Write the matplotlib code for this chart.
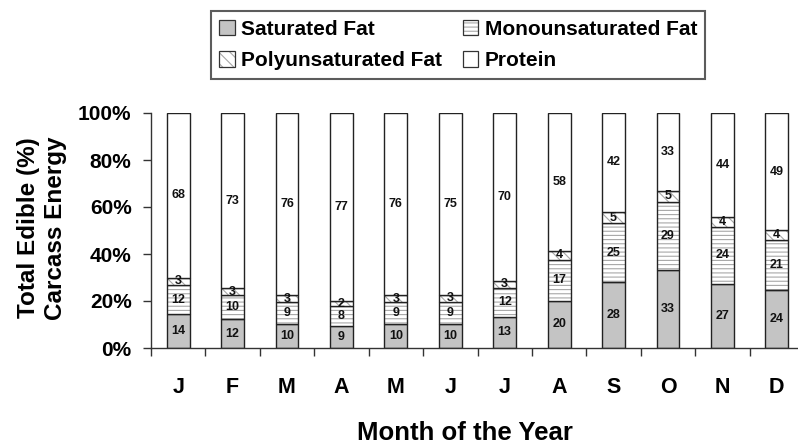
import numpy as np
import matplotlib
matplotlib.use("Agg")
import matplotlib.pyplot as plt
from matplotlib.patches import Patch
from matplotlib.ticker import FixedLocator

plt.rcParams['font.family'] = ['Liberation Sans', 'DejaVu Sans']
plt.rcParams['font.weight'] = 'bold'
plt.rcParams['hatch.linewidth'] = 0.8

# Data
months = ['J', 'F', 'M', 'A', 'M', 'J', 'J', 'A', 'S', 'O', 'N', 'D']
saturated = [14, 12, 10, 9, 10, 10, 13, 20, 28, 33, 27, 24]
monounsat = [12, 10, 9, 8, 9, 9, 12, 17, 25, 29, 24, 21]
polyunsat = [3, 3, 3, 2, 3, 3, 3, 4, 5, 5, 4, 4]
protein = [68, 73, 76, 77, 76, 75, 70, 58, 42, 33, 44, 49]

series = [
    ('Saturated Fat', saturated, '#c4c4c4', ''),
    ('Monounsaturated Fat', monounsat, 'white', '----'),
    ('Polyunsaturated Fat', polyunsat, 'white', '\\\\\\'),
    ('Protein', protein, 'white', ''),
]

x = np.arange(len(months))
total = np.array(saturated) + np.array(monounsat) + np.array(polyunsat) + np.array(protein)

fig = plt.figure(figsize=(7.98, 4.44), dpi=100)
ax = fig.add_axes([151 / 798, 1 - 348 / 444, (804 - 151) / 798, 235 / 444])

w = 0.42
bottom = np.zeros(len(months))
for name, vals, color, hatch in series:
    h = np.array(vals) / total * 100
    # fill + hatch in grey, then outline in dark
    ax.bar(x, h, w, bottom=bottom, color=color, hatch=hatch, edgecolor='#a8a8a8', linewidth=0)
    ax.bar(x, h, w, bottom=bottom, fill=False, edgecolor='#222222', linewidth=1.0)
    for xi, b, hi, v in zip(x, bottom, h, vals):
        ax.text(xi, b + hi / 2, str(v), ha='center', va='center', fontsize=9,
                fontweight='bold', color='#111111')
    bottom += h

ax.set_xlim(-0.5, 11.5)
ax.set_ylim(0, 100)
ax.set_yticks([0, 20, 40, 60, 80, 100])
ax.set_yticklabels(['0%', '20%', '40%', '60%', '80%', '100%'], fontsize=15, fontweight='bold')
ax.set_xticks(x)
ax.set_xticklabels(months, fontsize=15.5, fontweight='bold')
ax.tick_params(axis='x', which='major', length=0, pad=21)
ax.xaxis.set_minor_locator(FixedLocator(np.arange(-0.5, 11.6, 1)))
ax.tick_params(axis='x', which='minor', length=6, width=1, color='#333333')
ax.tick_params(axis='y', length=6, width=1, color='#333333', pad=8)

for s in ['top', 'right']:
    ax.spines[s].set_visible(False)
for s in ['left', 'bottom']:
    ax.spines[s].set_color('#333333')
    ax.spines[s].set_linewidth(1.0)

fig.text(465 / 798, 1 - 433 / 444, 'Month of the Year', ha='center', va='center',
         fontsize=18.5, fontweight='bold')
fig.text(42 / 798, 1 - 228 / 444, 'Total Edible (%)\nCarcass Energy', rotation=90,
         ha='center', va='center', fontsize=17.5, fontweight='bold', linespacing=1.25)

handles = [(Patch(facecolor=c, hatch=h, edgecolor='#a8a8a8', linewidth=0),
            Patch(fill=False, edgecolor='#333333', linewidth=0.9)) for _, _, c, h in series]
labels = [n for n, _, _, _ in series]
order = [0, 2, 1, 3]
leg = fig.legend([handles[i] for i in order], [labels[i] for i in order], ncol=2,
                 loc='center', bbox_to_anchor=(458 / 798, 1 - 45 / 444),
                 fontsize=15, frameon=True, fancybox=False, edgecolor='#333333',
                 handlelength=0.75, handleheight=0.75, handletextpad=0.3,
                 columnspacing=1.0, labelspacing=0.6, borderpad=0.4, borderaxespad=0)
leg.get_frame().set_linewidth(1.5)
for t in leg.get_texts():
    t.set_fontweight('bold')

fig.savefig('out.png', dpi=100)
